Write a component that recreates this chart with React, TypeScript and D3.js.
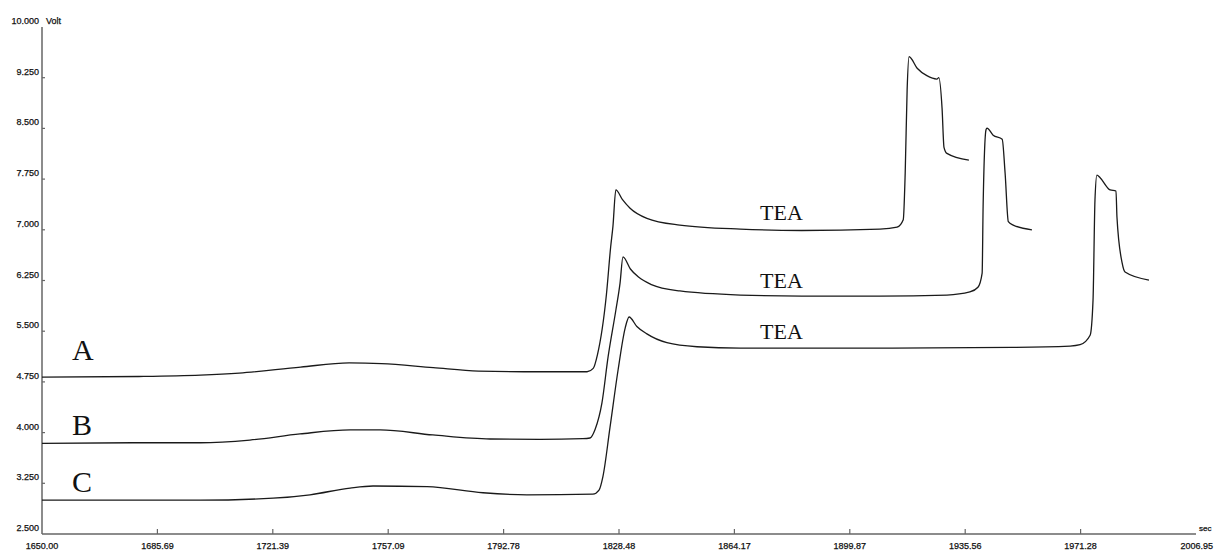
import React from 'react';
import * as d3 from 'd3';

// trace readings: [time (sec), voltage (Volt)]
const traceA: [number, number][] = [
    [1650, 4.82], [1680, 4.83], [1699, 4.85], [1711, 4.88], [1730, 4.97], [1745, 5.03],
    [1755, 5.02], [1771, 4.96], [1785, 4.91], [1804, 4.9], [1818.6, 4.9], [1820.5, 4.95],
    [1821.8, 5.15], [1824.6, 6.05], [1825.9, 6.75], [1826.6, 7.05], [1827.5, 7.59],
    [1829.5, 7.45], [1831.9, 7.32], [1837.1, 7.17], [1847.3, 7.07], [1866, 7.01],
    [1885, 6.99], [1909.2, 7.01], [1914.5, 7.04], [1916.4, 7.15], [1917.0, 7.84],
    [1917.6, 9.07], [1918.2, 9.56], [1920.7, 9.39], [1923.7, 9.28], [1926.8, 9.23],
    [1927.4, 9.25], [1928.4, 8.8], [1929.0, 8.22], [1929.9, 8.13], [1936.7, 8.03],
];

const traceB: [number, number][] = [
    [1650, 3.84], [1682.5, 3.85], [1699, 3.85], [1714.3, 3.89], [1729.8, 3.98], [1745.3, 4.04],
    [1754.6, 4.04], [1770.9, 3.965], [1788.6, 3.905], [1804, 3.9], [1817.3, 3.91], [1819.5, 3.92],
    [1821.1, 4.05], [1823.2, 4.44], [1825.1, 5.12], [1827.5, 5.81], [1828.8, 6.21], [1829.7, 6.6],
    [1832.0, 6.42], [1834.5, 6.3], [1838.5, 6.19], [1847.3, 6.095], [1866, 6.035], [1885, 6.02],
    [1909, 6.02], [1929.9, 6.035], [1937.0, 6.08], [1939.5, 6.15], [1940.8, 6.36], [1941.1, 7.34],
    [1942.0, 8.48], [1942.3, 8.505], [1944.2, 8.4], [1947.0, 8.34], [1947.9, 7.84],
    [1948.9, 7.12], [1950.4, 7.07], [1956.2, 7.0],
];

const traceC: [number, number][] = [
    [1650, 3.0], [1699, 3.0], [1721.5, 3.03], [1732.9, 3.08], [1745.3, 3.18], [1752.4, 3.21],
    [1769.1, 3.2], [1786.4, 3.11], [1800, 3.08], [1820.4, 3.09], [1822.3, 3.15], [1823.5, 3.35],
    [1825.7, 4.08], [1828.2, 4.93], [1830.4, 5.55], [1831.6, 5.71], [1834.0, 5.57],
    [1837.1, 5.46], [1843.3, 5.33], [1852.6, 5.27], [1866, 5.25], [1900, 5.25], [1950, 5.26],
    [1968, 5.28], [1971.1, 5.3], [1974.2, 5.44], [1975.1, 5.96], [1975.7, 7.44], [1976.3, 7.81],
    [1977.3, 7.77], [1980.4, 7.59], [1982.2, 7.574], [1982.5, 7.19], [1984.1, 6.51],
    [1985.0, 6.376], [1992.4, 6.257],
];

const traces = [traceA, traceB, traceC];
const traceNames = ['A', 'B', 'C'];
const markerText = ['TEA', 'TEA', 'TEA'];

const xTickLabels = ['1650.00', '1685.69', '1721.39', '1757.09', '1792.78', '1828.48',
    '1864.17', '1899.87', '1935.56', '1971.28', '2006.95'];
const yTickLabels = ['2.500', '3.250', '4.000', '4.750', '5.500', '6.250',
    '7.000', '7.750', '8.500', '9.250', '10.000'];

const W = 1214, H = 551;

const App = () => {
    const x = d3.scaleLinear().domain([1650, 2006.95]).range([42, 1196]);
    const y = d3.scaleLinear().domain([2.5, 10]).range([534, 27]);

    const line = d3.line<[number, number]>()
        .curve(d3.curveMonotoneX)
        .x(d => x(d[0]))
        .y(d => y(d[1]));

    const xStep = (2006.95 - 1650) / 10;

    // annotation anchors in data units
    const nameAt = [[1659.3, 5.07], [1659.3, 3.96], [1659.3, 3.12]];
    const teaAt = [[1872.1, 7.145], [1872.1, 6.14], [1872.1, 5.385]];

    const axisFont = '"Liberation Sans", Arial, sans-serif';
    const serif = '"Liberation Serif", "Times New Roman", serif';
    const txt = { fontFamily: axisFont, fontSize: 9, fill: '#111', stroke: '#111', strokeWidth: 0.25 };

    return (
        <svg width={W} height={H} style={{ position: 'absolute', left: 0, top: 0, background: '#fff' }}>
            {/* axes */}
            <line x1={x(1650)} x2={x(1650)} y1={y(10)} y2={y(2.5)} stroke="#666" strokeWidth={1.5} />
            <line x1={x(1650)} x2={x(2006.95)} y1={y(2.5)} y2={y(2.5)} stroke="#666" strokeWidth={1.5} />

            {yTickLabels.map((t, i) => (
                <g key={'y' + i}>
                    {i > 0 && i < yTickLabels.length - 1 &&
                        <line x1={x(1650)} x2={x(1650) + 3} y1={y(+t)} y2={y(+t)} stroke="#666" strokeWidth={1.2} />}
                    <text x={39} y={y(+t) - 3} textAnchor="end" {...txt}>{t}</text>
                </g>
            ))}
            <text x={46} y={y(10) - 3} {...txt}>Volt</text>

            {xTickLabels.map((t, i) => {
                const px = x(1650 + i * xStep);
                const last = i === xTickLabels.length - 1;
                return (
                    <g key={'x' + i}>
                        {i > 0 && !last &&
                            <line x1={px} x2={px} y1={y(2.5)} y2={y(2.5) - 5} stroke="#666" strokeWidth={1.2} />}
                        <text x={last ? W - 1 : px} y={549} textAnchor={last ? 'end' : 'middle'} {...txt}>{t}</text>
                    </g>
                );
            })}
            <text x={1199} y={y(2.5) - 3} {...txt} fontSize={8}>sec</text>

            {/* traces */}
            {traces.map((tr, i) => (
                <path key={'t' + i} d={line(tr) || ''} fill="none" stroke="#1a1a1a" strokeWidth={1.3} strokeLinejoin="round" />
            ))}

            {traceNames.map((n, i) => (
                <text key={'n' + i} x={x(nameAt[i][0])} y={y(nameAt[i][1])} fontFamily={serif} fontSize={30} fill="#111">{n}</text>
            ))}
            {markerText.map((m, i) => (
                <text key={'m' + i} x={x(teaAt[i][0])} y={y(teaAt[i][1])} fontFamily={serif} fontSize={22} fill="#111">{m}</text>
            ))}
        </svg>
    );
};

export default App;
